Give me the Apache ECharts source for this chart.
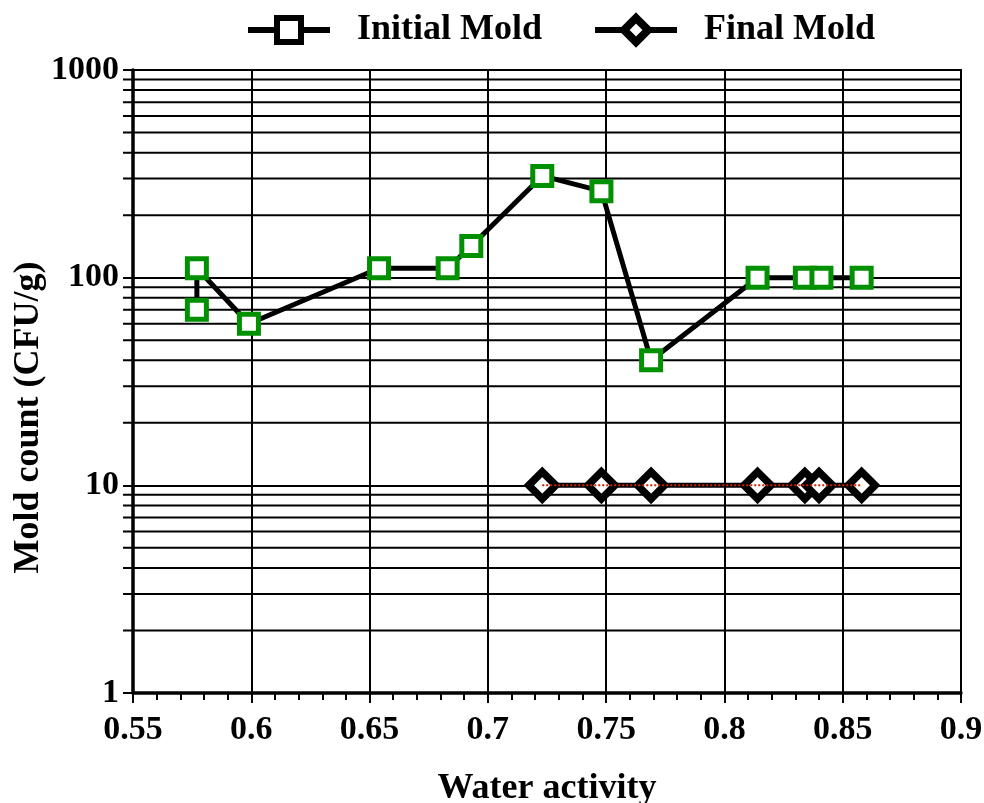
<!DOCTYPE html>
<html>
<head>
<meta charset="utf-8">
<script src="https://cdn.jsdelivr.net/npm/echarts@6/dist/echarts.min.js"></script>
<style>
html,body{margin:0;padding:0;background:#fff;}
#main{width:984px;height:803px;}
</style>
</head>
<body>
<div id="main"></div>
<script>
// ---- data ----
const initialX = [0.577, 0.577, 0.599, 0.654, 0.683, 0.693, 0.723, 0.748, 0.769, 0.814, 0.834, 0.841, 0.858];
const initialY = [70, 111, 60, 111, 111, 142, 309, 261, 40, 100, 100, 100, 100];
const finalX = [0.723, 0.748, 0.769, 0.814, 0.834, 0.840, 0.858];
const finalY = [10, 10, 10, 10, 10, 10, 10];
const minorGridValues = [2,3,4,5,6,7,8,9,20,30,40,50,60,70,80,90,200,300,400,500,600,700,800,900];
const xLabels = ['0.55','0.6','0.65','0.7','0.75','0.8','0.85','0.9'];
const yLabels = ['1','10','100','1000'];
const seriesNames = ['Initial Mold', 'Final Mold'];
const xMin = 0.55, xMax = 0.9;

const FONT = '"Liberation Serif", "Times New Roman", serif';
const initialData = initialX.map((x, i) => [x, initialY[i]]);
const finalData = finalX.map((x, i) => [x, finalY[i]]);

const chart = echarts.init(document.getElementById('main'), null, {renderer: 'canvas'});
chart.setOption({
  animation: false,
  backgroundColor: '#fff',
  grid: {left: 133, right: 23, top: 70, bottom: 110, show: true, borderColor: '#000', borderWidth: 2,
    backgroundColor: 'transparent', containLabel: false, outerBoundsMode: 'none'},
  legend: {
    top: 7, left: 240,
    itemWidth: 82, itemHeight: 30, itemGap: 50,
    textStyle: {fontFamily: FONT, fontWeight: 'bold', fontSize: 36, color: '#000', padding: [0, 0, 0, 22]},
    data: [
      {name: seriesNames[0], itemStyle: {borderColor: '#000', color: '#fff', borderWidth: 6}, lineStyle: {color: '#000', width: 6}},
      {name: seriesNames[1], itemStyle: {borderColor: '#000', color: '#fff', borderWidth: 8}, lineStyle: {color: '#000', width: 6}}
    ]
  },
  xAxis: {
    type: 'value', min: xMin, max: xMax, interval: 0.05,
    name: 'Water activity', nameLocation: 'middle', nameGap: 78, nameMoveOverlap: false,
    nameTextStyle: {fontFamily: FONT, fontWeight: 'bold', fontSize: 36, color: '#000'},
    axisLine: {show: true, lineStyle: {color: '#000', width: 3.5}},
    axisTick: {show: true, inside: false, length: 10, lineStyle: {color: '#000', width: 2}},
    minorTick: {show: true, splitNumber: 5, length: 7, lineStyle: {color: '#000', width: 2}},
    splitLine: {show: true, lineStyle: {color: '#000', width: 2}},
    axisLabel: {fontFamily: FONT, fontWeight: 'bold', fontSize: 34, color: '#000', margin: 20,
      formatter: function (v) { const s = (+v).toFixed(2).replace(/0+$/, '').replace(/\.$/, ''); return xLabels.indexOf(s) >= 0 ? s : ''; }}
  },
  yAxis: {
    type: 'log', logBase: 10, min: 1, max: 1000,
    name: 'Mold count (CFU/g)', nameLocation: 'middle', nameGap: 86, nameRotate: 90, nameMoveOverlap: false,
    nameTextStyle: {fontFamily: FONT, fontWeight: 'bold', fontSize: 36, color: '#000', padding: [0, 72, 0, 0]},
    axisLine: {show: true, lineStyle: {color: '#000', width: 3.5}},
    axisTick: {show: true, inside: false, length: 10, lineStyle: {color: '#000', width: 2}},
    splitLine: {show: true, lineStyle: {color: '#000', width: 2}},
    axisLabel: {fontFamily: FONT, fontWeight: 'bold', fontSize: 34, color: '#000', margin: 14,
      formatter: function (v) { const s = String(Math.round(v)); return yLabels.indexOf(s) >= 0 ? s : ''; }}
  },
  series: [
    {
      type: 'custom', silent: true, clip: false, z: 1,
      data: minorGridValues.map(v => [xMin, v]),
      encode: {x: 0, y: 1},
      renderItem: function (params, api) {
        const v = api.value(1);
        const p0 = api.coord([xMin, v]);
        const p1 = api.coord([xMax, v]);
        return {type: 'line', shape: {x1: p0[0] - 10, y1: p0[1], x2: p1[0], y2: p1[1]}, style: {stroke: '#000', lineWidth: 2}};
      }
    },
    {
      name: seriesNames[0], type: 'line', data: initialData, z: 5,
      symbol: 'rect', symbolSize: 19,
      lineStyle: {color: '#000', width: 5},
      itemStyle: {color: '#fff', borderColor: '#009000', borderWidth: 5}
    },
    {
      name: seriesNames[1], type: 'line', data: finalData, z: 5,
      symbol: 'diamond', symbolSize: 27,
      lineStyle: {color: '#000', width: 5},
      itemStyle: {color: '#fff', borderColor: '#000', borderWidth: 7.5}
    },
    {
      name: 'finalDots', type: 'line', data: finalData, z: 6, silent: true,
      symbol: 'none',
      lineStyle: {color: '#cc2200', width: 2, type: 'dotted'}
    }
  ]
});
</script>
</body>
</html>
